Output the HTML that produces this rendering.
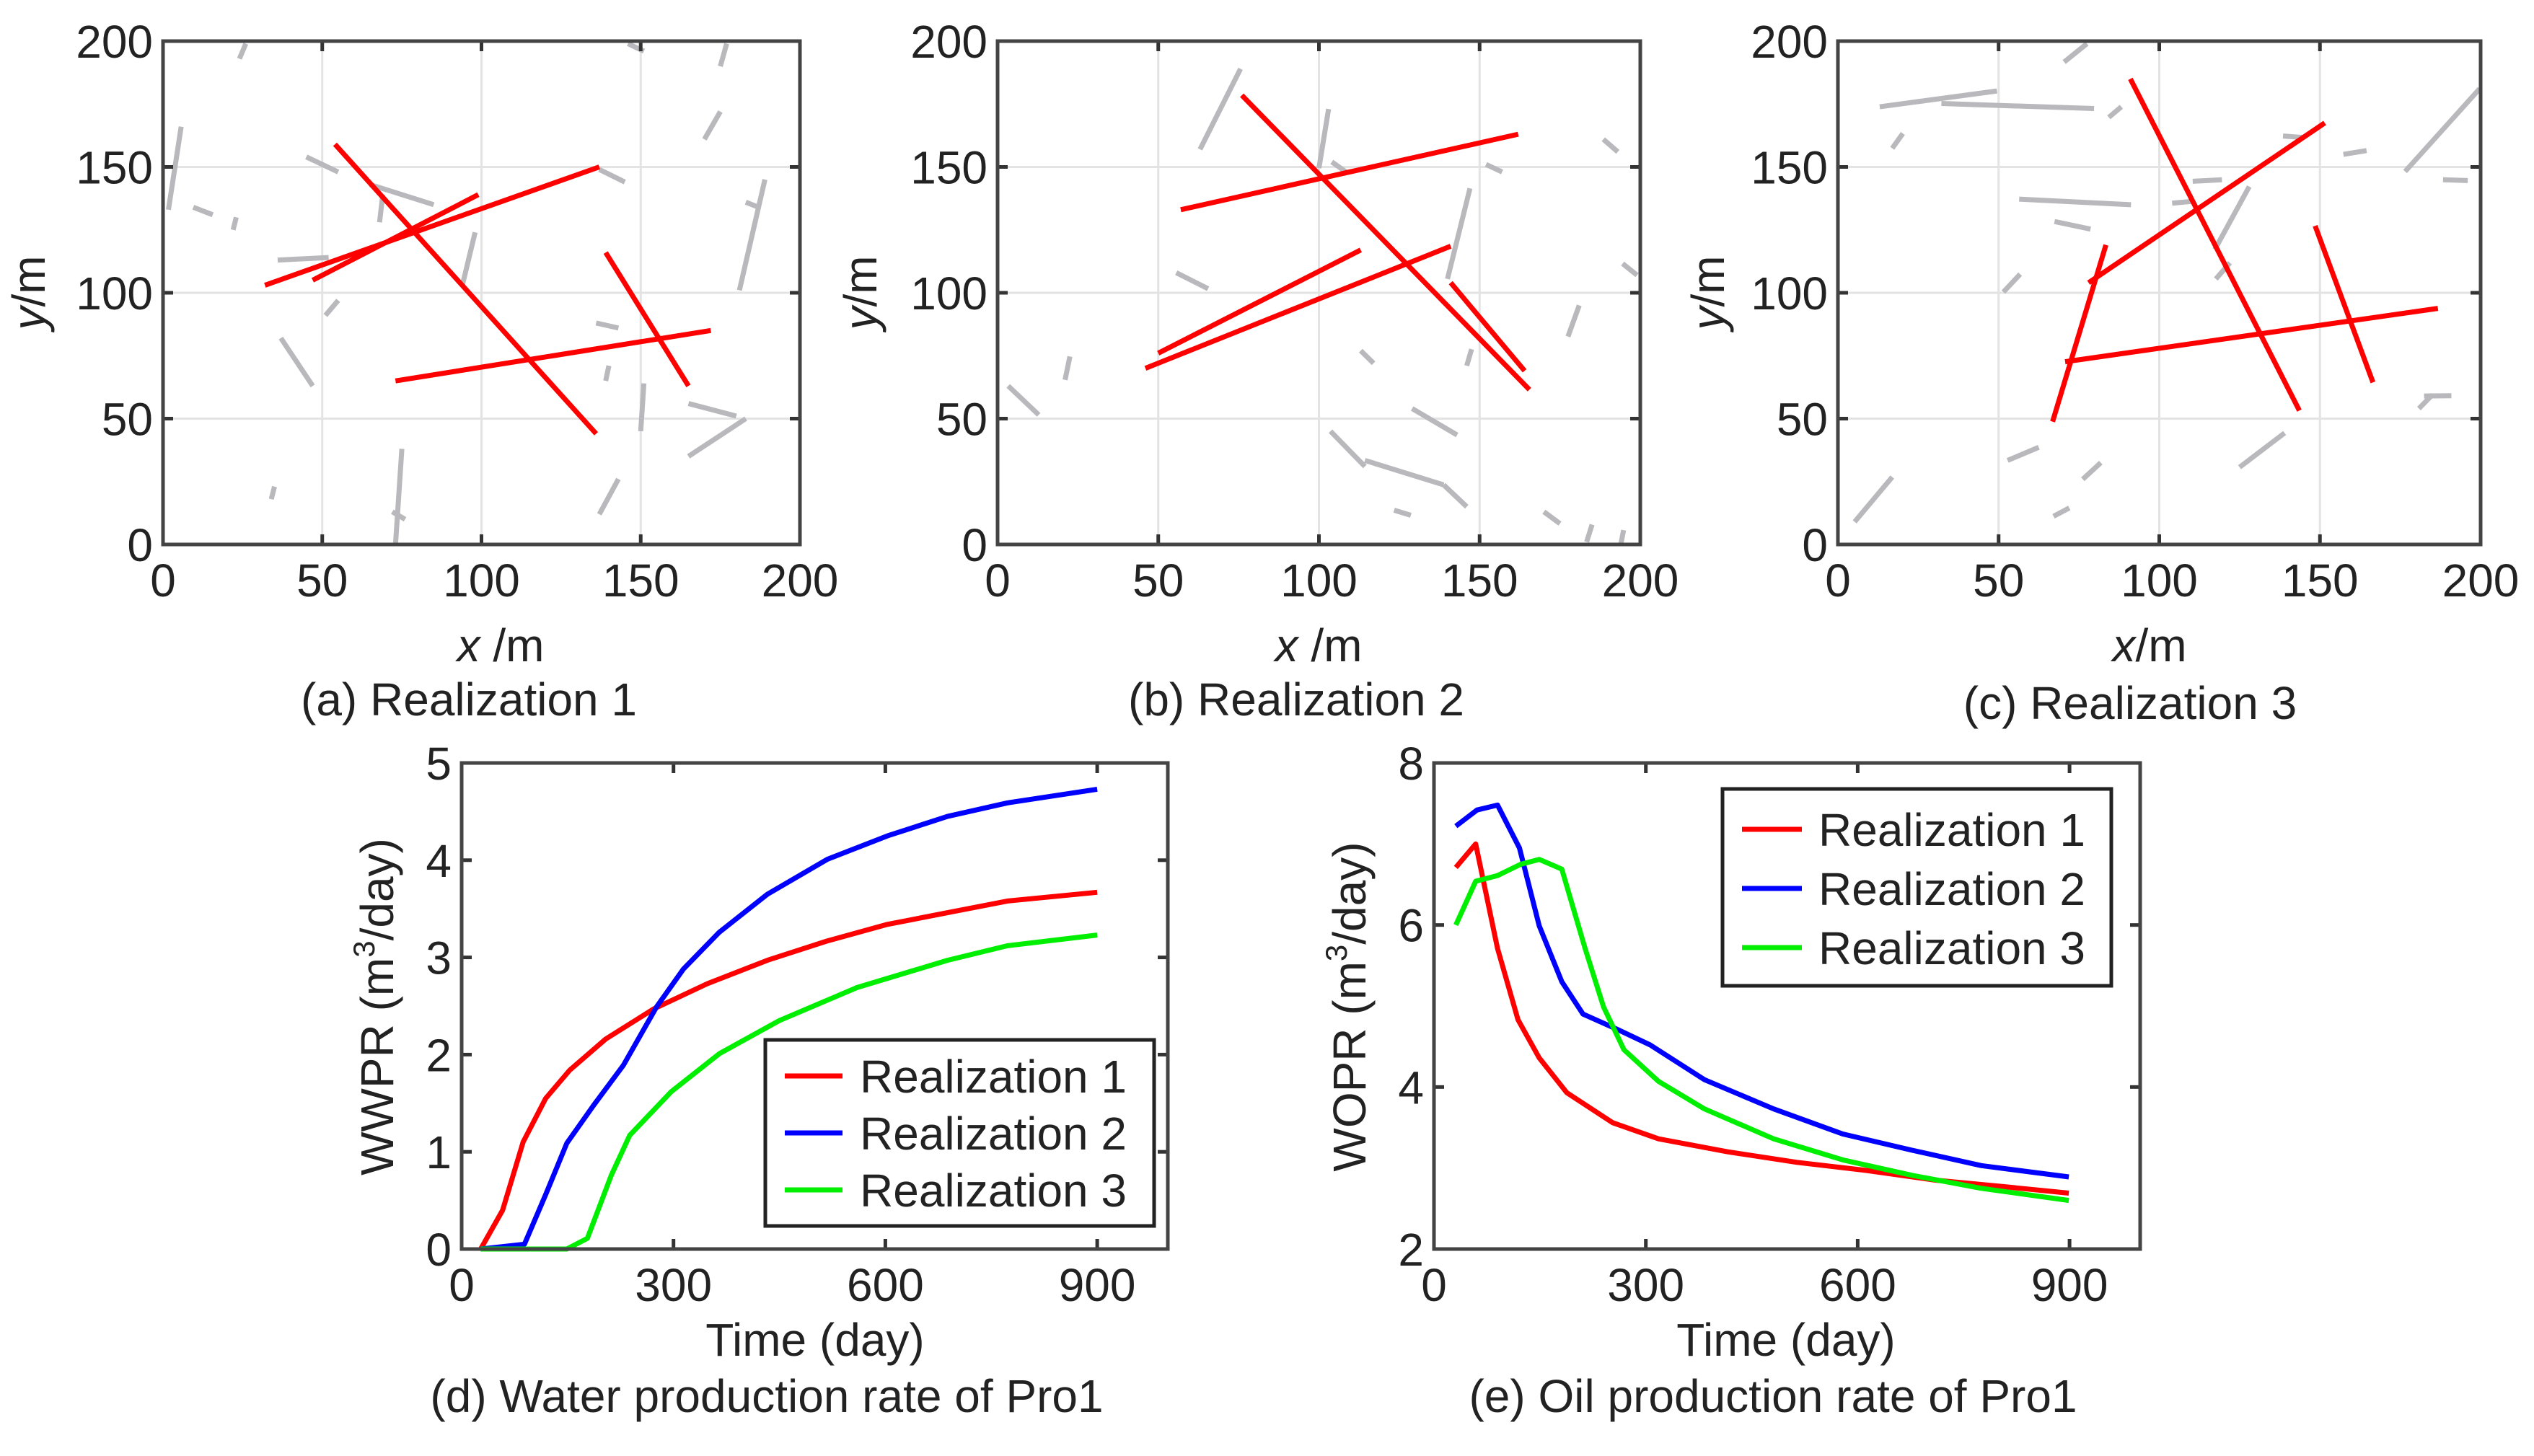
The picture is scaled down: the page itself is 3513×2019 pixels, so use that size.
<!DOCTYPE html>
<html><head><meta charset="utf-8"><style>
html,body{margin:0;padding:0;background:#fff}
svg{display:block}
text{font-family:"Liberation Sans",Arial,sans-serif;fill:#222}
</style></head><body>
<svg id="fig" width="3513" height="2019" xmlns="http://www.w3.org/2000/svg"></svg>
<script>
// ---- fracture data (x,y in m) ----
const redA=[[54,159,136,44],[32,103,137,150],[47,105,99,139],[73,65,172,85],[139,116,165,63]];
const grayA=[[24,193,26,199],[146,199,151,196],[177,199,175,190],[175,172,170,161],[5.7,166,1.7,133],[9.5,134,15.6,131],[23,130,22,125],[45,154,55,148],[65,143,85,135],[69,139,68,128],[137,149,145,144],[189,145,181,101],[183,136,187,134],[36,113,52,114],[98,124,94,103],[55,97,51,91],[37,82,47,63],[136,88,143,86],[140,71,139,65],[151,64,150,45],[165,56,180,51],[183,50,165,35],[75,38,73,0],[72,13,76,10],[35,23,34,18],[143,26,137,12]];
const redB=[[76,178.5,165.5,61.5],[57,133,162,163],[50,76,113,117],[46,70,141,118.5],[141,104,164,69]];
const grayB=[[75.6,189,63,157],[103,173,100,149.5],[104,152,109,147.5],[152,151,157,148],[188.5,161,193,156],[147,141.5,140,105.5],[194.5,111.6,199,107],[55.6,108,65.5,101.6],[181,95,177.5,82.6],[113,77,117,72],[147.5,77.6,146,71],[22.5,74.7,21,65.4],[3.3,63,12.8,51.5],[129,54,143,43.5],[103.6,45,114.3,31],[114.3,33.4,138.8,23.7],[138.8,23.7,146,15],[123.4,13.6,128.6,11.6],[170,13,175,8.3],[185,7.9,183.3,1],[194.8,5.7,194,0.4]];
const redC=[[91,185,143.6,53.2],[78,104,151.5,167.5],[83.4,119,66.8,48.8],[70.7,72.6,186.7,93.8],[148.5,126.6,166.5,64.4]];
const grayC=[[70.4,191.7,77.5,199],[13,173.9,49.5,180.2],[32.2,175.2,79.7,173.2],[84.3,169.7,88.2,173.9],[16.9,157.4,20.2,163.3],[138.5,162.3,144.6,161.7],[157.3,155,164.5,156.5],[176.5,148.2,199.7,181.1],[188.3,144.9,196,144.6],[110.4,144.3,119.5,144.9],[56.4,137.2,91.2,135],[104,135.6,110,136.3],[128,142.2,117.3,117.2],[67.4,128.3,78.6,125.3],[122,111.9,117.6,105.5],[56.7,107.4,51.5,100.3],[182.4,59,190.9,59.1],[185,59.5,180.8,54],[139,44.3,125,30.7],[62.5,38.6,52.8,33.4],[81.8,32.5,76.2,25.9],[16.9,26.8,5.2,9],[72,14.5,67.1,11.2]];
const mapTicks=[0,50,100,150,200];
// ---- production data ----
const wwprR1x=[27,58,87,119,153,204,272,348,433,518,603,688,773,900];
const wwprR1y=[0,0.4,1.1,1.55,1.84,2.16,2.47,2.73,2.97,3.17,3.34,3.46,3.58,3.67];
const wwprR2x=[27,89,119,149,187,229,276,314,365,433,518,603,688,773,900];
const wwprR2y=[0,0.05,0.56,1.09,1.48,1.89,2.49,2.88,3.26,3.65,4.01,4.25,4.45,4.59,4.73];
const wwprR3x=[27,149,178,212,238,297,365,450,560,688,773,900];
const wwprR3y=[0,0,0.11,0.76,1.17,1.62,2.01,2.35,2.69,2.97,3.12,3.23];
const woprR1x=[31,59,90,119,149,188,253,318,416,514,612,710,807,899];
const woprR1y=[6.71,7.0,5.71,4.83,4.36,3.93,3.56,3.36,3.2,3.07,2.97,2.85,2.77,2.69];
const woprR2x=[31,61,90,121,149,181,211,260,306,383,481,579,677,775,899];
const woprR2y=[7.22,7.42,7.48,6.95,5.99,5.3,4.9,4.71,4.52,4.09,3.73,3.42,3.22,3.03,2.89];
const woprR3x=[31,59,90,123,149,181,214,240,269,318,383,481,579,677,775,899];
const woprR3y=[6.0,6.54,6.61,6.75,6.81,6.69,5.71,4.99,4.46,4.07,3.73,3.36,3.1,2.91,2.75,2.6];
const timeTicks=[0,300,600,900];
const wwprTicks=[0,1,2,3,4,5];
const woprTicks=[2,4,6,8];
const legendLabels=["Realization 1","Realization 2","Realization 3"];

const NS="http://www.w3.org/2000/svg";
const svg=document.getElementById('fig');
function el(tag,attrs,parent,txt){const e=document.createElementNS(NS,tag);for(const k in attrs)e.setAttribute(k,attrs[k]);if(txt!==undefined)e.textContent=txt;(parent||svg).appendChild(e);return e;}
function lin(d0,d1,p0,p1){return v=>p0+(v-d0)/(d1-d0)*(p1-p0);}

function axesFrame(g,L,R,T,B,sx,sy,xt,yt,grid){
  if(grid){
    xt.forEach(v=>{const gl=el('line',{x1:sx(v),x2:sx(v),y1:T,y2:B,stroke:'#e3e3e3','stroke-width':3},g);});
    yt.forEach(v=>{const gl=el('line',{x1:L,x2:R,y1:sy(v),y2:sy(v),stroke:'#e3e3e3','stroke-width':3},g);});
  }
}
function axesBox(g,L,R,T,B,sx,sy,xt,yt,xfmt,yLabelRight){
  xt.forEach(v=>{
    el('line',{x1:sx(v),x2:sx(v),y1:B,y2:B-14,stroke:'#333','stroke-width':5},g);
    el('line',{x1:sx(v),x2:sx(v),y1:T,y2:T+14,stroke:'#333','stroke-width':5},g);
    const t=el('text',{x:sx(v),y:B+72,'font-size':64,'text-anchor':'middle'},g,String(v));
    
  });
  yt.forEach(v=>{
    el('line',{x1:L,x2:L+14,y1:sy(v),y2:sy(v),stroke:'#333','stroke-width':5},g);
    el('line',{x1:R,x2:R-14,y1:sy(v),y2:sy(v),stroke:'#333','stroke-width':5},g);
    const t=el('text',{x:L-14,y:sy(v)+23,'font-size':64,'text-anchor':'end'},g,String(v));
    
  });
  const r=el('rect',{x:L,y:T,width:R-L,height:B-T,fill:'none',stroke:'#444','stroke-width':5},g);
  
}

function mapPanel(name,L,R,red,gray,ylabX,xlabel,xlabX,caption,capX,capY){
  const T=57,B=755;
  const g=el('g',{});
  
  const sx=lin(0,200,L,R), sy=lin(0,200,B,T);
  el('rect',{x:L,y:T,width:R-L,height:B-T,fill:'#fff'},g);
  axesFrame(g,L,R,T,B,sx,sy,mapTicks,mapTicks,true);
  gray.forEach(s=>{const l=el('line',{x1:sx(s[0]),y1:sy(s[1]),x2:sx(s[2]),y2:sy(s[3]),stroke:'#b9b9bd','stroke-width':7},g);
    });
  red.forEach(s=>{const l=el('line',{x1:sx(s[0]),y1:sy(s[1]),x2:sx(s[2]),y2:sy(s[3]),stroke:'#ff0000','stroke-width':7},g);
    });
  axesBox(g,L,R,T,B,sx,sy,mapTicks,mapTicks);
  const yl=el('text',{x:0,y:0,'font-size':64,'text-anchor':'middle',transform:`translate(${ylabX+22},406) rotate(-90)`},g);
  
  el('tspan',{'font-style':'italic'},yl,'y');el('tspan',{},yl,'/m');
  const xl=el('text',{x:xlabX,y:917,'font-size':64,'text-anchor':'middle'},g);
  
  el('tspan',{'font-style':'italic'},xl,'x');el('tspan',{},xl,xlabel);
  const c=el('text',{x:capX,y:capY,'font-size':64,'text-anchor':'middle'},g,caption);
  
}
mapPanel('realization-1-map',226,1109,redA,grayA,40,' /m',694,'(a) Realization 1',650,992);
mapPanel('realization-2-map',1383,2274,redB,grayB,1193,' /m',1828,'(b) Realization 2',1797,992);
mapPanel('realization-3-map',2548,3439,redC,grayC,2368,'/m',2980,'(c) Realization 3',2953,997);

function ratePanel(name,L,R,yMin,yMax,yt,series,ylab,legend,yLabX,timeX,capX,caption){
  const T=1058,B=1732;
  const g=el('g',{});
  
  const sx=lin(0,1000,L,R), sy=lin(yMin,yMax,B,T);
  const cols=['#ff0000','#0000ff','#00ee00'];
  series.forEach((s,i)=>{
    const pts=s[0].map((x,j)=>sx(x).toFixed(1)+','+sy(s[1][j]).toFixed(1)).join(' ');
    const p=el('polyline',{points:pts,fill:'none',stroke:cols[i],'stroke-width':7,'stroke-linejoin':'round'},g);
    
  });
  axesBox(g,L,R,T,B,sx,sy,timeTicks,yt);
  const yl=el('text',{x:0,y:0,'font-size':64,'text-anchor':'middle',transform:`translate(${yLabX+22},1396) rotate(-90)`},g);
  
  el('tspan',{},yl,ylab+' (m');el('tspan',{'font-size':42,dy:-26},yl,'3');el('tspan',{dy:26},yl,'/day)');
  const xl=el('text',{x:timeX,y:1880,'font-size':64,'text-anchor':'middle'},g,'Time (day)');
  
  const c=el('text',{x:capX,y:1958,'font-size':64,'text-anchor':'middle'},g,caption);
  
  const lg=el('g',{},g);
  
  el('rect',{x:legend.x,y:legend.y,width:legend.w,height:legend.h,fill:'#fff',stroke:'#222','stroke-width':5},lg);
  legendLabels.forEach((lab,i)=>{
    const ry=legend.r0+i*legend.dr;
    const e=el('g',{},lg);
    
    el('line',{x1:legend.x+27,x2:legend.x+27+legend.ll,y1:ry,y2:ry,stroke:cols[i],'stroke-width':7},e);
    el('text',{x:legend.tx,y:ry+23,'font-size':64,fill:'#111'},e,lab);
  });
}
ratePanel('water-production-chart',640,1619,0,5,wwprTicks,[[wwprR1x,wwprR1y],[wwprR2x,wwprR2y],[wwprR3x,wwprR3y]],'WWPR',
  {x:1061,y:1442,w:539,h:258,r0:1492,dr:79,ll:80,tx:1192},523,1130,1063,'(d) Water production rate of Pro1');
ratePanel('oil-production-chart',1988,2967,2,8,woprTicks,[[woprR1x,woprR1y],[woprR2x,woprR2y],[woprR3x,woprR3y]],'WOPR',
  {x:2388,y:1094,w:539,h:273,r0:1150,dr:82,ll:83,tx:2521},1871,2476,2458,'(e) Oil production rate of Pro1');
</script>
</body></html>
